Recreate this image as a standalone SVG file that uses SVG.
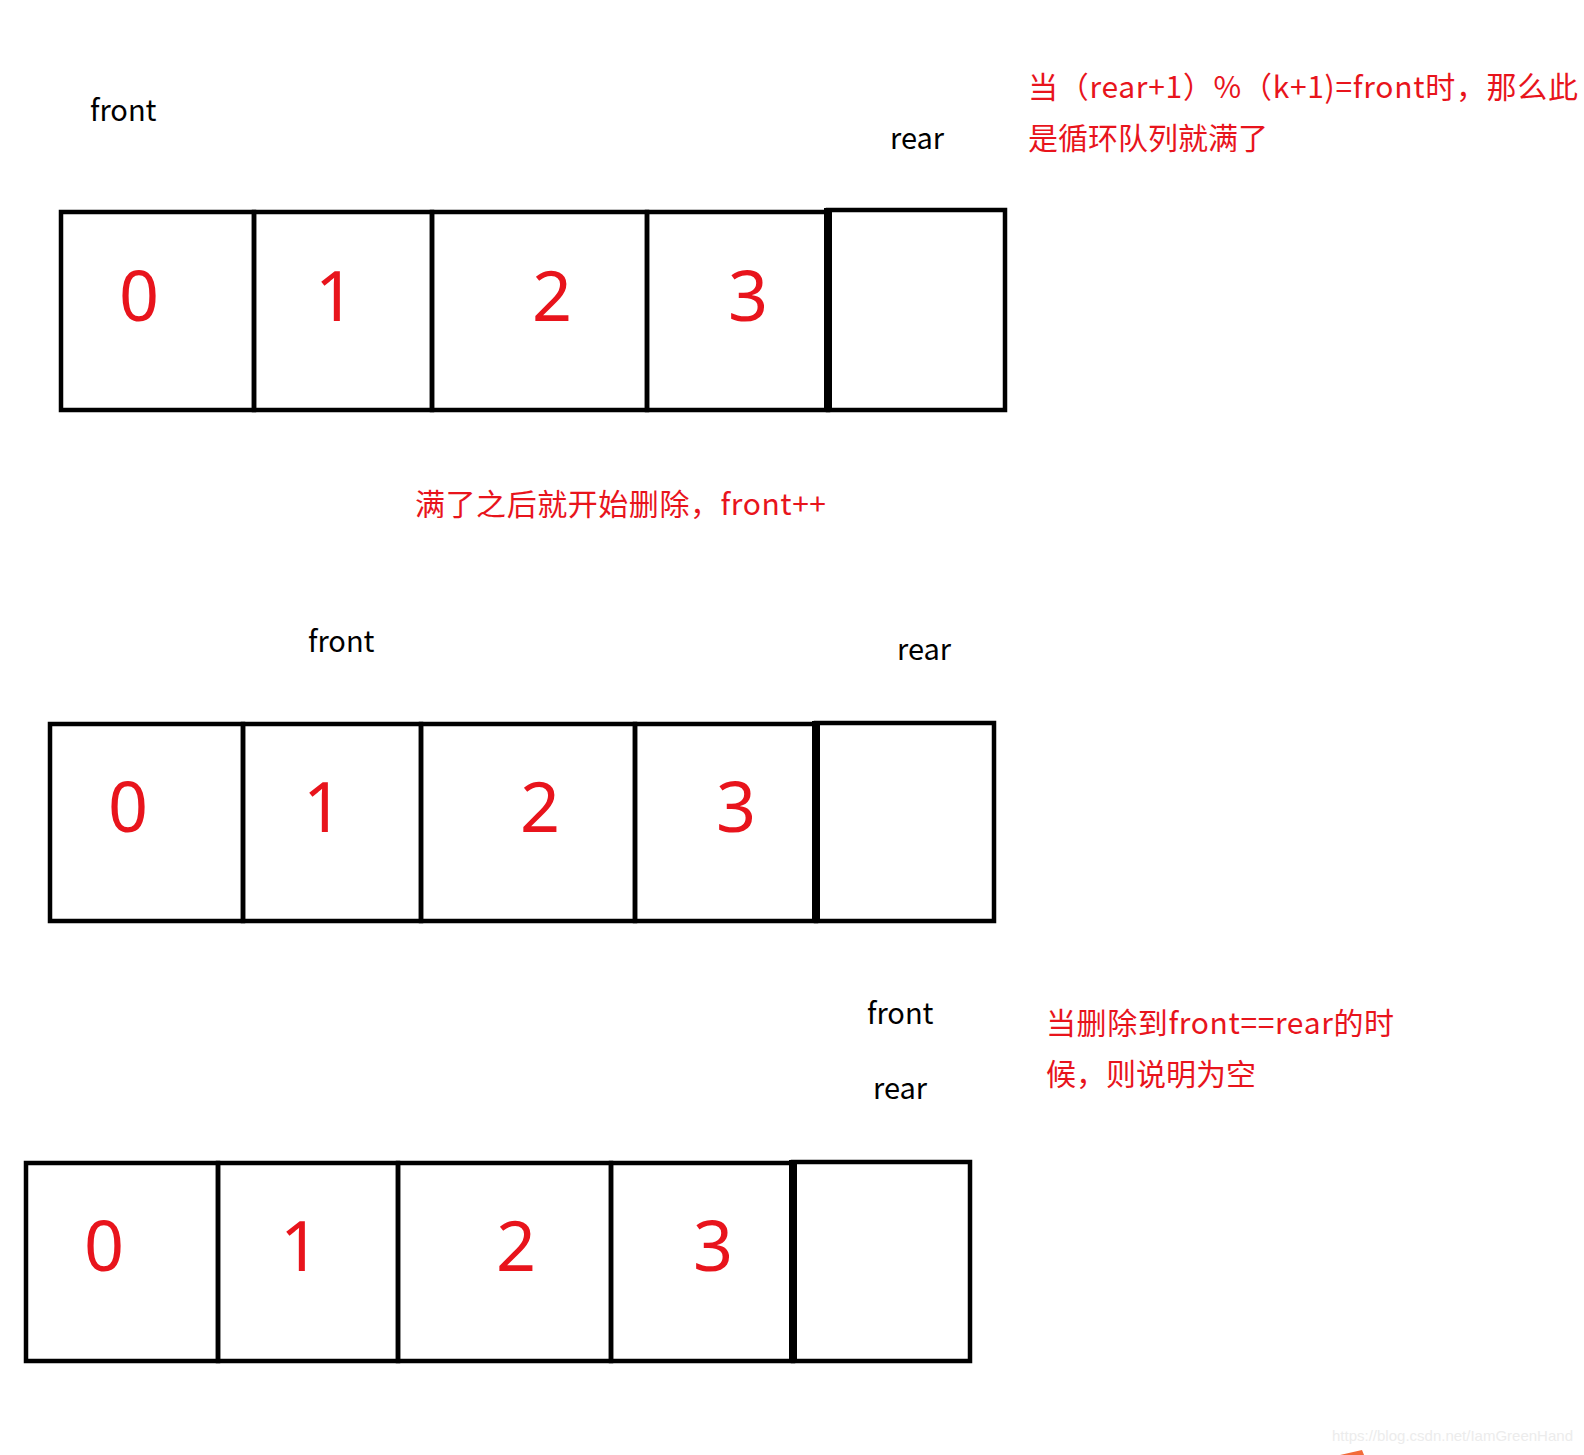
<svg xmlns="http://www.w3.org/2000/svg" width="1584" height="1455" viewBox="0 0 1584 1455">
<style>
.cell{fill:none;stroke:#000;stroke-width:4.5}
.thick{stroke:#000;stroke-width:8}
.num{font-family:"Noto Sans","Open Sans",sans-serif;font-size:70px;fill:#e8141c;text-anchor:middle}
.lbl{font-family:"Noto Sans CJK SC","Noto Sans",sans-serif;font-size:29px;fill:#000}
.note{font-family:"Noto Sans CJK SC",sans-serif;font-size:30px;fill:#e8141c}
.wm{font-family:"Liberation Sans",sans-serif;font-size:15px;fill:#ececec}
</style>
<rect width="1584" height="1455" fill="#fff"/>

<g id="queue1">
  <rect class="cell" x="61" y="212" width="193" height="198"/>
  <rect class="cell" x="254" y="212" width="178" height="198"/>
  <rect class="cell" x="432" y="212" width="215" height="198"/>
  <rect class="cell" x="647" y="212" width="181" height="198"/>
  <rect class="cell" x="828" y="210" width="177" height="200"/>
  <line class="thick" x1="828" y1="208" x2="828" y2="412"/>
  <text class="num" x="139" y="321">0</text>
  <text class="num" x="335" y="321">1</text>
  <text class="num" x="552" y="321">2</text>
  <text class="num" x="748" y="321">3</text>
  <text class="lbl" x="90" y="121">front</text>
  <text class="lbl" x="890" y="149">rear</text>
</g>
<g id="note1">
  <text class="note" x="1028" y="98" textLength="550" lengthAdjust="spacing">当（rear+1）%（k+1)=front时，那么此</text>
  <text class="note" x="1028" y="149" textLength="240" lengthAdjust="spacing">是循环队列就满了</text>
</g>
<g id="note2">
  <text class="note" x="415" y="515" textLength="411" lengthAdjust="spacing">满了之后就开始删除，front++</text>
</g>

<g id="queue2">
  <rect class="cell" x="50" y="724" width="193" height="197"/>
  <rect class="cell" x="243" y="724" width="178" height="197"/>
  <rect class="cell" x="421" y="724" width="214" height="197"/>
  <rect class="cell" x="635" y="724" width="181" height="197"/>
  <rect class="cell" x="816" y="723" width="178" height="198"/>
  <line class="thick" x1="816" y1="721" x2="816" y2="923"/>
  <text class="num" x="128" y="832">0</text>
  <text class="num" x="323" y="832">1</text>
  <text class="num" x="540" y="832">2</text>
  <text class="num" x="736" y="832">3</text>
  <text class="lbl" x="308" y="652">front</text>
  <text class="lbl" x="897" y="660">rear</text>
</g>

<g id="queue3">
  <rect class="cell" x="26" y="1163" width="192" height="198"/>
  <rect class="cell" x="218" y="1163" width="180" height="198"/>
  <rect class="cell" x="398" y="1163" width="213" height="198"/>
  <rect class="cell" x="611" y="1163" width="182" height="198"/>
  <rect class="cell" x="793" y="1162" width="177" height="199"/>
  <line class="thick" x1="793" y1="1160" x2="793" y2="1363"/>
  <text class="num" x="104" y="1271">0</text>
  <text class="num" x="300" y="1271">1</text>
  <text class="num" x="516" y="1271">2</text>
  <text class="num" x="713" y="1271">3</text>
  <text class="lbl" x="867" y="1024">front</text>
  <text class="lbl" x="873" y="1099">rear</text>
</g>
<g id="note3">
  <text class="note" x="1046" y="1034" textLength="348" lengthAdjust="spacing">当删除到front==rear的时</text>
  <text class="note" x="1046" y="1085" textLength="210" lengthAdjust="spacing">候，则说明为空</text>
</g>

<g id="watermark">
  <text class="wm" x="1332" y="1441">https://blog.csdn.net/IamGreenHand</text>
  <polygon points="1340,1455 1362,1450 1364,1455" fill="#f26b3a"/>
</g>
</svg>
